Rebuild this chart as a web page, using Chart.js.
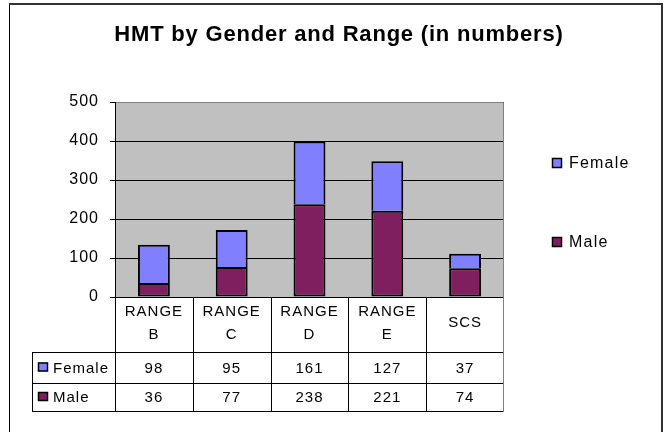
<!DOCTYPE html>
<html>
<head>
<meta charset="utf-8">
<script src="https://cdn.jsdelivr.net/npm/chart.js@4/dist/chart.umd.min.js"></script>
<style>
html,body{margin:0;padding:0;background:#fff;}
#wrap{width:664px;height:432px;position:relative;}
</style>
</head>
<body>
<div id="wrap"><canvas id="c" width="664" height="432"></canvas></div>
<script>
const titleText = 'HMT by Gender and Range (in numbers)';
const categories = ['RANGE B', 'RANGE C', 'RANGE D', 'RANGE E', 'SCS'];
const headerLines = [['RANGE', 'B'], ['RANGE', 'C'], ['RANGE', 'D'], ['RANGE', 'E'], ['SCS']];
const seriesNames = ['Female', 'Male'];
const femaleValues = [98, 95, 161, 127, 37];
const maleValues = [36, 77, 238, 221, 74];
const yMin = 0, yMax = 500, yStep = 100;

const FEMALE_COLOR = '#8080FF';
const MALE_COLOR = '#7F1F5F';
const FONT = '"Liberation Sans", Arial, sans-serif';

const decor = {
  id: 'decor',
  beforeDraw(chart) {
    const ctx = chart.ctx, a = chart.chartArea;
    ctx.save();
    ctx.fillStyle = '#fff';
    ctx.fillRect(0, 0, chart.width, chart.height);
    ctx.fillStyle = '#C0C0C0';
    ctx.fillRect(a.left, a.top, a.right - a.left, a.bottom - a.top);
    ctx.restore();
    ctx.letterSpacing = '1px';
  },
  afterDraw(chart) {
    const ctx = chart.ctx, a = chart.chartArea, xs = chart.scales.x;
    ctx.save();
    // plot area top/right border (gray)
    ctx.strokeStyle = '#808080';
    ctx.lineWidth = 1;
    ctx.beginPath();
    ctx.moveTo(a.left, a.top + 0.5); ctx.lineTo(a.right - 0.5, a.top + 0.5);
    ctx.lineTo(a.right - 0.5, a.bottom);
    ctx.stroke();

    // outer chart border
    ctx.strokeStyle = '#000';
    ctx.lineWidth = 1;
    ctx.beginPath();
    ctx.moveTo(9.5, 440); ctx.lineTo(9.5, 4.5);
    ctx.stroke();
    ctx.strokeStyle = '#333';
    ctx.lineWidth = 2;
    ctx.beginPath();
    ctx.moveTo(9, 4); ctx.lineTo(662, 4); ctx.lineTo(662, 440);
    ctx.stroke();

    // title
    ctx.fillStyle = '#000';
    ctx.font = 'bold 22px ' + FONT;
    ctx.letterSpacing = '0.8px';
    ctx.textAlign = 'center';
    ctx.textBaseline = 'middle';
    ctx.fillText(titleText, 339, 35);

    // data table
    const n = categories.length;
    const colW = (a.right - a.left) / n;
    const yH = a.bottom, y1 = a.bottom + 55, y2 = a.bottom + 86, y3 = a.bottom + 114;
    const tLeft = 32;
    ctx.strokeStyle = '#000';
    ctx.lineWidth = 1;
    ctx.beginPath();
    [y1, y2, y3].forEach(y => { ctx.moveTo(tLeft, y + 0.5); ctx.lineTo(a.right, y + 0.5); });
    ctx.moveTo(tLeft + 0.5, y1); ctx.lineTo(tLeft + 0.5, y3 + 1);
    for (let i = 0; i < n; i++) {
      const x = Math.round(a.left + i * colW) + 0.5;
      ctx.moveTo(x, i === 0 ? a.top : yH); ctx.lineTo(x, y3 + 1);
    }
    ctx.stroke();
    ctx.strokeStyle = '#808080';
    ctx.beginPath();
    ctx.moveTo(a.right - 0.5, yH); ctx.lineTo(a.right - 0.5, y3 + 1);
    ctx.stroke();

    ctx.fillStyle = '#000';
    ctx.font = '15px ' + FONT;
    ctx.letterSpacing = '1px';
    ctx.textAlign = 'center';
    ctx.textBaseline = 'middle';
    for (let i = 0; i < n; i++) {
      const cx = xs.getPixelForTick(i);
      const lines = headerLines[i];
      if (lines.length === 2) {
        ctx.fillText(lines[0], cx, yH + 15);
        ctx.fillText(lines[1], cx, yH + 38);
      } else {
        ctx.fillText(lines[0], cx, yH + 26);
      }
      ctx.fillText(String(femaleValues[i]), cx, (y1 + y2) / 2 + 1);
      ctx.fillText(String(maleValues[i]), cx, (y2 + y3) / 2 + 1);
    }
    const keyRow = (label, color, cy) => {
      ctx.fillStyle = color;
      ctx.fillRect(38, cy - 5, 10, 9);
      ctx.strokeStyle = '#000';
      ctx.lineWidth = 1.5;
      ctx.strokeRect(38.5, cy - 4.5, 9, 8);
      ctx.fillStyle = '#000';
      ctx.textAlign = 'left';
      ctx.fillText(label, 53, cy + 1);
    };
    keyRow(seriesNames[0], FEMALE_COLOR, (y1 + y2) / 2);
    keyRow(seriesNames[1], MALE_COLOR, (y2 + y3) / 2);

    // legend
    keyRow2(ctx, seriesNames[0], FEMALE_COLOR, 163);
    keyRow2(ctx, seriesNames[1], MALE_COLOR, 242);
    ctx.restore();
  }
};

function keyRow2(ctx, label, color, cy) {
  ctx.fillStyle = color;
  ctx.fillRect(552, cy - 5, 10, 10);
  ctx.strokeStyle = '#000';
  ctx.lineWidth = 1.5;
  ctx.strokeRect(552.5, cy - 4.5, 9, 9);
  ctx.fillStyle = '#000';
  ctx.font = '16px ' + FONT;
  ctx.letterSpacing = '1.2px';
  ctx.textAlign = 'left';
  ctx.textBaseline = 'middle';
  ctx.fillText(label, 569, cy + 1);
}

new Chart(document.getElementById('c'), {
  type: 'bar',
  data: {
    labels: categories,
    datasets: [
      { label: seriesNames[1], data: maleValues, backgroundColor: MALE_COLOR, borderColor: '#000', borderWidth: 2, borderSkipped: false },
      { label: seriesNames[0], data: femaleValues, backgroundColor: FEMALE_COLOR, borderColor: '#000', borderWidth: 2, borderSkipped: 'bottom' }
    ]
  },
  options: {
    responsive: false,
    animation: false,
    devicePixelRatio: 1,
    layout: { padding: { top: 102, right: 160, bottom: 135, left: 0 } },
    plugins: { legend: { display: false }, title: { display: false }, tooltip: { enabled: false } },
    datasets: { bar: { categoryPercentage: 1, barPercentage: 0.41 } },
    scales: {
      x: { display: false, stacked: true },
      y: {
        stacked: true,
        min: yMin, max: yMax,
        afterFit(s) { s.width = 115; },
        ticks: { stepSize: yStep, color: '#000', font: { size: 16, family: FONT }, padding: 11 },
        grid: { color: '#000', tickLength: 5, lineWidth: 1 },
        border: { color: '#000', width: 1 }
      }
    }
  },
  plugins: [decor]
});
</script>
</body>
</html>
